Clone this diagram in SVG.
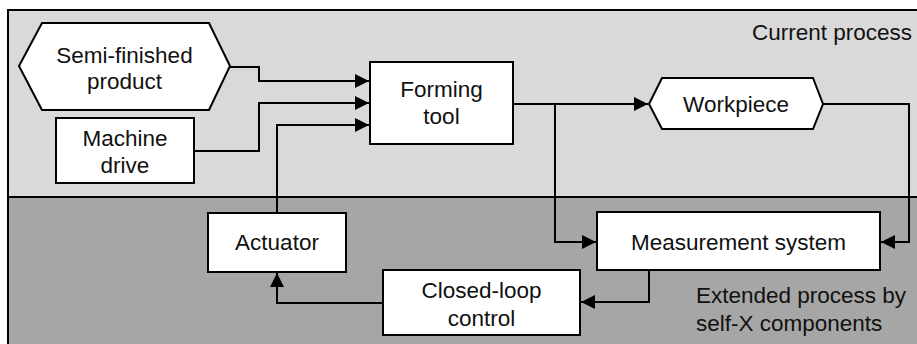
<svg xmlns="http://www.w3.org/2000/svg" width="917" height="344" viewBox="0 0 917 344">
  <defs>
    <marker id="arrow" markerWidth="14" markerHeight="14" viewBox="0 0 14 14" refX="14" refY="7" orient="auto" markerUnits="userSpaceOnUse">
      <path d="M0,0 L14,7 L0,14 Z" fill="#000"/>
    </marker>
  </defs>
  <style>
    .node { fill: #fff; stroke: #000; stroke-width: 2; }
    .lbl { font-family: "Liberation Sans", Arial, sans-serif; font-size: 22.5px; fill: #111; text-anchor: middle; }
    .note { font-family: "Liberation Sans", Arial, sans-serif; font-size: 22.5px; fill: #111; }
    .conn { fill: none; stroke: #000; stroke-width: 2; }
  </style>

  <rect x="0" y="0" width="917" height="344" fill="#fff"/>

  <!-- process zones -->
  <g id="zones">
    <rect x="8" y="10" width="920" height="187" fill="#d9d9d9"/>
    <rect x="8" y="197" width="920" height="160" fill="#a6a6a6"/>
    <path d="M928,10 H8 V357" fill="none" stroke="#000" stroke-width="2"/>
    <line x1="8" y1="197" x2="928" y2="197" stroke="#000" stroke-width="2"/>
    <text class="note" x="912" y="40" text-anchor="end">Current process</text>
    <text class="note" x="696" y="303">Extended process by</text>
    <text class="note" x="696" y="331">self-X components</text>
  </g>

  <!-- connectors -->
  <g id="connectors">
    <path class="conn" d="M230,67 H259 V81 H369" marker-end="url(#arrow)"/>
    <path class="conn" d="M194,151 H259 V103 H369" marker-end="url(#arrow)"/>
    <path class="conn" d="M277,213 V125 H369" marker-end="url(#arrow)"/>
    <path class="conn" d="M513,104 H648" marker-end="url(#arrow)"/>
    <path class="conn" d="M555,104 V242 H596" marker-end="url(#arrow)"/>
    <path class="conn" d="M823,104 H909 V242 H881" marker-end="url(#arrow)"/>
    <path class="conn" d="M649,270 V302 H581" marker-end="url(#arrow)"/>
    <path class="conn" d="M383,303 H277 V273" marker-end="url(#arrow)"/>
  </g>

  <g id="semi-finished-product">
    <polygon class="node" points="19,66 42,23 209,23 230,66 209,110 42,110"/>
    <text class="lbl" x="124.5" y="63">Semi-finished</text>
    <text class="lbl" x="124.5" y="89">product</text>
  </g>

  <g id="machine-drive">
    <rect class="node" x="56" y="118" width="138" height="65"/>
    <text class="lbl" x="125" y="146">Machine</text>
    <text class="lbl" x="125" y="173">drive</text>
  </g>

  <g id="forming-tool">
    <rect class="node" x="370" y="62" width="143" height="82"/>
    <text class="lbl" x="441.5" y="97">Forming</text>
    <text class="lbl" x="441.5" y="124">tool</text>
  </g>

  <g id="workpiece">
    <polygon class="node" points="649,104 662,78 813,78 823,104 813,129 662,129"/>
    <text class="lbl" x="736" y="112">Workpiece</text>
  </g>

  <g id="actuator">
    <rect class="node" x="208" y="213" width="138" height="59"/>
    <text class="lbl" x="277" y="250">Actuator</text>
  </g>

  <g id="measurement-system">
    <rect class="node" x="597" y="212" width="283" height="58"/>
    <text class="lbl" x="738.5" y="250">Measurement system</text>
  </g>

  <g id="closed-loop-control">
    <rect class="node" x="383" y="270" width="197" height="65"/>
    <text class="lbl" x="481.5" y="298">Closed-loop</text>
    <text class="lbl" x="481.5" y="326">control</text>
  </g>
</svg>
